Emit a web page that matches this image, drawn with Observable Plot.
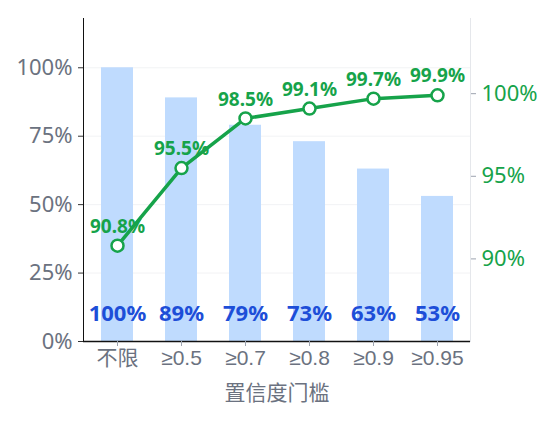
<!DOCTYPE html>
<html><head><meta charset="utf-8">
<script src="https://cdn.jsdelivr.net/npm/d3@7"></script>
<script src="https://cdn.jsdelivr.net/npm/@observablehq/plot@0.6"></script>
<style>
body{margin:0;background:#fff;}
svg{font-family:"Noto Sans","Noto Sans CJK SC",sans-serif;}
</style></head>
<body><div id="chart"></div>
<script>
const categories = ["不限", "≥0.5", "≥0.7", "≥0.8", "≥0.9", "≥0.95"];
const coverage = [100, 89, 79, 73, 63, 53];        // bars, left axis (%)
const accuracy = [90.8, 95.5, 98.5, 99.1, 99.7, 99.9]; // line, right axis (%)
const leftTicks = [0, 25, 50, 75, 100];
const rightTicks = [90, 95, 100];
const leftDomain = [0, 118];
const rightDomain = [85, 104.55];

const toLeft = d3.scaleLinear().domain(rightDomain).range(leftDomain);
const data = categories.map((c, i) => ({cat: c, cov: coverage[i], acc: accuracy[i], accL: toLeft(accuracy[i])}));

const green = "#16a34a";
const gray = "#6b7280";
const xFont = '"Liberation Sans","DejaVu Sans","Noto Sans CJK SC",sans-serif';

const chart = Plot.plot({
  width: 552, height: 424,
  marginLeft: 83, marginRight: 82, marginTop: 18, marginBottom: 83,
  style: {fontSize: "20px", fontFamily: '"Noto Sans","Noto Sans CJK SC",sans-serif'},
  x: {domain: categories, paddingInner: 0.5, paddingOuter: 0.25, label: null},
  y: {domain: leftDomain, label: null},
  marks: [
    Plot.gridY(leftTicks, {stroke: "#e5e7eb", strokeOpacity: 0.5}),
    Plot.barY(data, {x: "cat", y: "cov", fill: "#bfdbfe"}),
    Plot.text(data, {x: "cat", y: 10, text: d => d.cov + "%", fill: "#1d4ed8", fontWeight: "bold", fontSize: 22}),
    Plot.frame({anchor: "right", stroke: "#e5e7eb"}),
    Plot.frame({anchor: "left", stroke: "#111"}),
    Plot.ruleY([0], {stroke: "#111", strokeWidth: 1.5}),
    Plot.axisY(leftTicks, {anchor: "left", tickSize: 5, tickPadding: 6, fontSize: 22, tickFormat: d => d + "%", color: gray, stroke: "#333", label: null}),
    Plot.axisY(rightTicks.map(t => toLeft(t)), {anchor: "right", tickSize: 5, tickPadding: 6, fontSize: 22, tickFormat: d => Math.round(toLeft.invert(d)) + "%", color: green, stroke: "#9ca3af", label: null}),
    Plot.axisX({tickSize: 5, tickPadding: 4, fontSize: 21, fontFamily: xFont, color: gray, stroke: "#9ca3af", label: "置信度门槛", labelAnchor: "center", labelOffset: 58}),
    Plot.line(data, {x: "cat", y: "accL", stroke: green, strokeWidth: 3.5}),
    Plot.dot(data, {x: "cat", y: "accL", r: 6, fill: "white", stroke: green, strokeWidth: 2.5}),
    Plot.text(data, {x: "cat", y: "accL", dy: -19, text: d => d.acc.toFixed(1) + "%", fill: green, fontWeight: "bold", fontSize: 19})
  ]
});
document.getElementById("chart").appendChild(chart);
</script>
</body></html>
